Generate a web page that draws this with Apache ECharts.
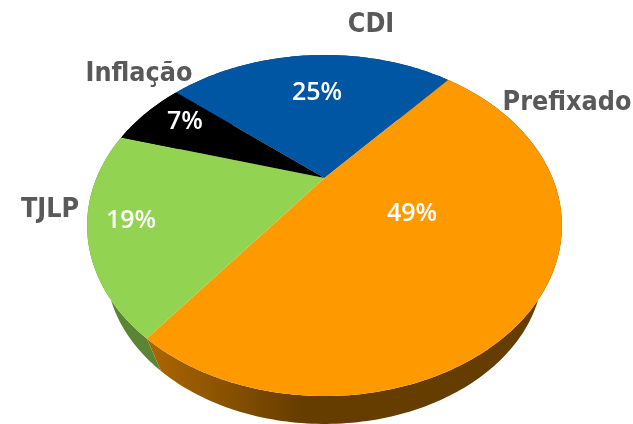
<!DOCTYPE html>
<html>
<head>
<meta charset="utf-8">
<style>
  html, body { margin: 0; padding: 0; background: #fff; }
  #chart { width: 633px; height: 424px; }
</style>
<script src="https://cdn.jsdelivr.net/npm/echarts@6/dist/echarts.min.js"></script>
</head>
<body>
<div id="chart"></div>
<script>
// dados (sentido horario a partir do CDI)
var categories = ['CDI', 'Prefixado', 'TJLP', 'Inflação'];
var shares = [25.3, 49.0, 19.1, 6.6];
var colors = ['#0056a3', '#ff9900', '#92d351', '#000000'];

// posicao dos rotulos
var nameLabelPos = [[371, 25], [567, 103], [50, 210], [139, 74]];
var pctLabelPos = [[317, 93], [412, 214], [131, 221], [185, 122]];

// pizza em perspectiva: circulo unitario -> tela
var centerX = 324.5, centerY = 178, scaleX = 228, scaleY = 157.3, persp = 0.2786;
var startAngle = -50.1;   // inicio do CDI, graus a partir do topo
var vanishX = 325, vanishY = 745, depth = 0.08;

function project(deg) {
    var a = deg * Math.PI / 180;
    var x = Math.sin(a), y = Math.cos(a);
    var w = 1 + persp * y;
    return [centerX + scaleX * x / w, centerY - scaleY * y / w];
}
function lower(p) {
    return [p[0] + (vanishX - p[0]) * depth, p[1] + (vanishY - p[1]) * depth];
}
function sliceAngles(i) {
    var total = shares.reduce(function (s, v) { return s + v; }, 0);
    var before = 0;
    for (var k = 0; k < i; k++) before += shares[k];
    return [startAngle + before / total * 360, startAngle + (before + shares[i]) / total * 360];
}
function arcPoints(a0, a1) {
    var pts = [];
    var n = Math.ceil((a1 - a0) / 1);
    for (var k = 0; k <= n; k++) pts.push(project(a0 + (a1 - a0) * k / n));
    return pts;
}

var rimColors = [
    '#003463',
    new echarts.graphic.LinearGradient(147, 0, 300, 0, [
        { offset: 0, color: '#ad6700' },
        { offset: 1, color: '#663d00' }
    ], true),
    '#5a8535',
    '#000000'
];

function renderRim(params) {
    var i = params.dataIndex;
    var ang = sliceAngles(i);
    var arc = arcPoints(ang[0], ang[1]);
    var low = arc.map(lower).reverse();
    return {
        type: 'polygon',
        shape: { points: arc.concat(low) },
        style: { fill: rimColors[i] }
    };
}

function renderTop(params) {
    var i = params.dataIndex;
    var ang = sliceAngles(i);
    var pts = [[centerX, centerY]].concat(arcPoints(ang[0], ang[1]));
    return {
        type: 'polygon',
        shape: { points: pts },
        style: { fill: colors[i] }
    };
}

function renderLabels(params) {
    var i = params.dataIndex;
    return {
        type: 'group',
        children: [{
            type: 'text',
            x: nameLabelPos[i][0],
            y: nameLabelPos[i][1],
            scaleY: 1.1,
            style: {
                text: categories[i],
                fill: '#595959',
                font: 'bold 24px "DejaVu Sans"',
                align: 'center',
                verticalAlign: 'middle'
            }
        }, {
            type: 'text',
            x: pctLabelPos[i][0],
            y: pctLabelPos[i][1],
            style: {
                text: Math.round(shares[i]) + '%',
                fill: '#ffffff',
                font: '600 25px "Open Sans"',
                align: 'center',
                verticalAlign: 'middle'
            }
        }]
    };
}

var option = {
    backgroundColor: '#ffffff',
    animation: false,
    series: [
        { type: 'custom', coordinateSystem: 'none', silent: true, z: 1, data: shares, renderItem: renderRim },
        { type: 'custom', coordinateSystem: 'none', silent: true, z: 2, data: shares, renderItem: renderTop },
        { type: 'custom', coordinateSystem: 'none', silent: true, z: 3, data: shares, renderItem: renderLabels }
    ]
};

var myChart = echarts.init(document.getElementById('chart'));
myChart.setOption(option);
</script>
</body>
</html>
